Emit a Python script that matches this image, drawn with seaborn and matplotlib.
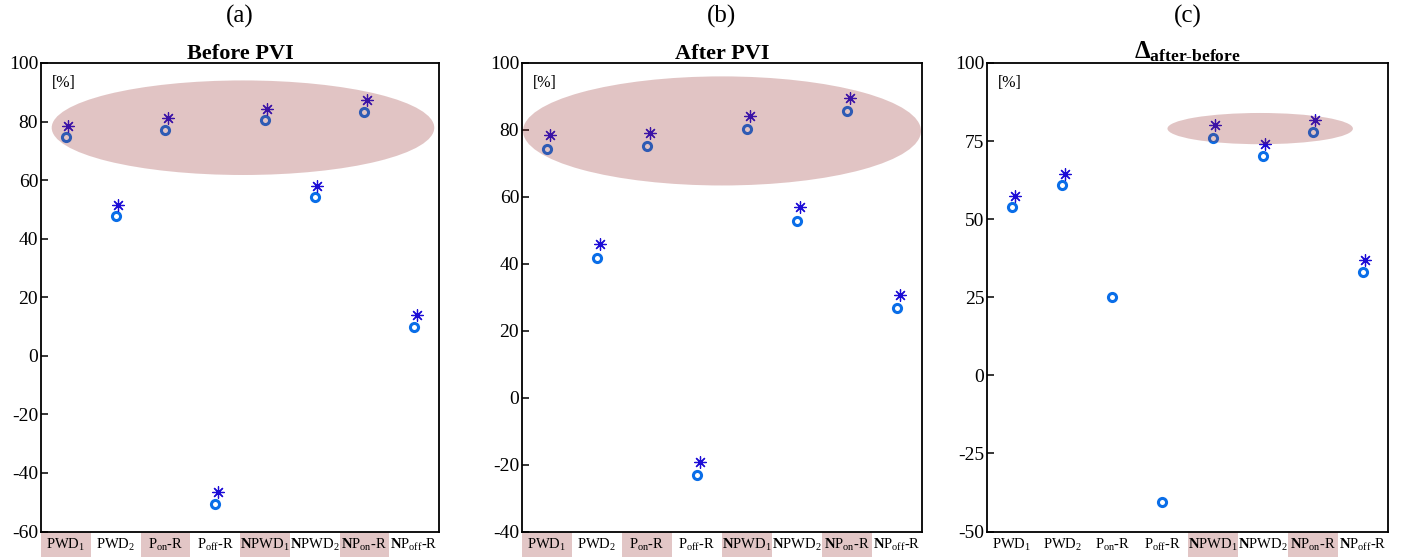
import numpy as np
import pandas as pd
import matplotlib
matplotlib.use("Agg")
import matplotlib.pyplot as plt
import matplotlib.transforms as mtransforms
from matplotlib.patches import Ellipse, Rectangle
import seaborn as sns

sns.set_theme(style="white")
plt.rcParams["font.family"] = ["Liberation Serif", "DejaVu Serif"]
plt.rcParams["mathtext.fontset"] = "custom"
plt.rcParams["mathtext.rm"] = "Liberation Serif"
plt.rcParams["mathtext.it"] = "Liberation Serif:italic"
plt.rcParams["mathtext.bf"] = "Liberation Serif:bold"
plt.rcParams["axes.unicode_minus"] = False
for key in ["text.color", "axes.labelcolor", "xtick.color", "ytick.color"]:
    plt.rcParams[key] = "black"

# ---------------------------------------------------------------
# data
# ---------------------------------------------------------------
categories = [r"PWD$_\mathrm{1}$", r"PWD$_\mathrm{2}$", r"P$_\mathrm{on}$-R", r"P$_\mathrm{off}$-R",
              r"$\mathbf{N}$PWD$_\mathrm{1}$", r"$\mathbf{N}$PWD$_\mathrm{2}$",
              r"$\mathbf{N}$P$_\mathrm{on}$-R", r"$\mathbf{N}$P$_\mathrm{off}$-R"]

before_circle = [74.6, 47.8, 77.1, -50.5, 80.5, 54.2, 83.3, 10.0]
before_star = [78.5, 51.6, 81.2, -46.4, 84.4, 58.0, 87.3, 13.9]

after_circle = [74.4, 41.7, 75.3, -23.2, 80.2, 52.9, 85.7, 26.7]
after_star = [78.6, 45.8, 79.1, -19.2, 84.2, 56.9, 89.6, 30.7]

delta_circle = [53.8, 60.8, 25.0, -40.7, 76.1, 70.3, 77.8, 33.1]
delta_star = [57.5, 64.6, np.nan, np.nan, 80.2, 74.2, 81.9, 36.8]

panel_tags = ["(a)", "(b)", "(c)"]
panel_titles = ["Before PVI", "After PVI",
                r"$\mathbf{\Delta}_{\mathbf{after\text{-}before}}$"]
title_sizes = [16, 16, 18]
ylims = [(-60, 100), (-40, 100), (-50, 100)]
yticks = [np.arange(-60, 101, 20), np.arange(-40, 101, 20), np.arange(-50, 101, 25)]
label_highlight = [[0, 2, 4, 6], [0, 2, 4, 6], [4, 6]]

# highlight ellipses: (x centre, y centre, width, height) in data units
ellipses = [(4.56, 77.9, 7.69, 32.3), (4.5, 79.7, 7.96, 32.6), (5.95, 79.0, 3.7, 10.0)]

CIRCLE_COL = "#0a6ee8"
STAR_COL = "#1c0cd6"
PINK = "#e2c6c6"
STAR_MARKER = (8, 2, 0)

fig = plt.figure(figsize=(14.11, 5.57), dpi=100)
lefts = [41 / 1411, 522 / 1411, 987 / 1411]
widths = [398 / 1411, 400 / 1411, 401 / 1411]
bottom = 1 - 531.5 / 557
height = (531.5 - 63) / 557

series = [(before_circle, before_star), (after_circle, after_star), (delta_circle, delta_star)]

for i, (circ, star) in enumerate(series):
    ax = fig.add_axes([lefts[i], bottom, widths[i], height])
    df = pd.DataFrame({"pos": np.arange(1, len(categories) + 1),
                       "circle": circ, "star": star})

    sns.scatterplot(data=df, x="pos", y="circle", ax=ax, marker="o", s=34,
                    color="white", edgecolor=CIRCLE_COL, linewidth=2.2, zorder=3)
    sns.scatterplot(x=df["pos"] + 0.05, y=df["star"], ax=ax, marker=STAR_MARKER,
                    s=70, color=STAR_COL, linewidth=0.9, zorder=3)

    cx, cy, w, h = ellipses[i]
    ax.add_patch(Ellipse((cx, cy), w, h, facecolor="#922828", edgecolor="none",
                         alpha=0.27, zorder=4))

    ax.set_xlim(0.5, len(categories) + 0.5)
    ax.set_ylim(*ylims[i])
    ax.set_yticks(yticks[i])
    ax.set_xticks(df["pos"])
    ax.set_xticklabels(categories, fontsize=10.5)
    ax.set_xlabel("")
    ax.set_ylabel("")
    ax.tick_params(axis="x", length=0, pad=4)
    ax.tick_params(axis="y", direction="in", length=5, width=1.1,
                   labelsize=14, pad=2, left=True, colors="black")
    for sp in ax.spines.values():
        sp.set_color("black")
        sp.set_linewidth(1.3)

    # pink boxes behind selected tick labels
    trans = mtransforms.blended_transform_factory(ax.transData, ax.transAxes)
    for k in label_highlight[i]:
        ax.add_patch(Rectangle((k + 0.5, -0.054), 1.0, 0.053, transform=trans,
                               facecolor=PINK, edgecolor="none", clip_on=False, zorder=0))

    ax.text(0.027, 0.975, "[%]", transform=ax.transAxes, ha="left", va="top", fontsize=11.5)
    ax.set_title(panel_titles[i], fontsize=title_sizes[i], fontweight="bold", pad=3)
    ax.annotate(panel_tags[i], xy=(0.5, 1.0), xycoords="axes fraction",
                xytext=(0, 25), textcoords="offset points",
                ha="center", va="bottom", fontsize=18)

plt.savefig("out.png", dpi=100)
plt.close()
